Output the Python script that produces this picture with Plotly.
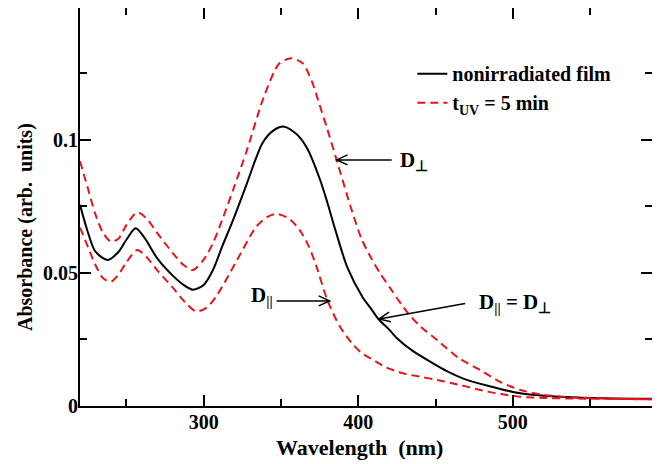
import plotly.graph_objects as go

# ---- data ----
wl_film = [220, 225, 230, 238, 245, 250, 256, 262, 270, 280, 287, 293, 300, 306, 312, 319,
           328, 338, 345, 352, 360, 367, 375, 380, 385, 393, 403, 408, 413, 420, 425, 435,
           447, 457, 468, 485, 500, 515, 533, 560, 590]
abs_film = [0.0756, 0.0655, 0.058, 0.0549, 0.058, 0.0625, 0.0668, 0.063, 0.0555, 0.049, 0.0455,
            0.0437, 0.0455, 0.0511, 0.060, 0.0699, 0.0837, 0.0988, 0.1035, 0.1050, 0.1022,
            0.0968, 0.0855, 0.0765, 0.0665, 0.0520, 0.0407, 0.0368, 0.0327, 0.0287, 0.0255,
            0.0208, 0.0165, 0.0132, 0.0103, 0.0074, 0.0053, 0.0041, 0.0034, 0.0029, 0.0027]

wl_perp = [220, 225, 230, 235, 240, 245, 250, 257, 263, 270, 280, 287, 293, 300, 306, 312,
           319, 328, 339, 349, 357, 364, 370, 374, 380, 386, 395, 402, 408, 414, 421, 432,
           440, 451, 465, 479, 492, 505, 520, 540, 560, 590]
abs_perp = [0.092, 0.082, 0.072, 0.065, 0.0618, 0.063, 0.068, 0.0728, 0.0705, 0.065, 0.0575,
            0.053, 0.0511, 0.055, 0.0612, 0.070, 0.0812, 0.0962, 0.1163, 0.1288, 0.1307,
            0.1288, 0.122, 0.115, 0.104, 0.0925, 0.075, 0.063, 0.056, 0.050, 0.044, 0.035,
            0.030, 0.0248, 0.018, 0.0135, 0.009, 0.006, 0.0042, 0.0032, 0.0028, 0.0025]

wl_par = [220, 225, 230, 235, 240, 245, 250, 257, 263, 270, 280, 288, 295, 302, 308, 316,
          324, 334, 341, 347, 355, 362, 368, 373, 380, 388, 396, 402, 408, 418, 429, 440,
          451, 465, 479, 492, 505, 520, 540, 560, 590]
abs_par = [0.067, 0.060, 0.053, 0.048, 0.0467, 0.0495, 0.054, 0.0586, 0.056, 0.051, 0.0445,
           0.039, 0.0356, 0.037, 0.0411, 0.049, 0.0574, 0.0674, 0.071, 0.0722, 0.0705, 0.0662,
           0.060, 0.0524, 0.0398, 0.030, 0.0235, 0.020, 0.0179, 0.0145, 0.0123, 0.011,
           0.0098, 0.008, 0.006, 0.0045, 0.0035, 0.003, 0.0028, 0.0027, 0.0025]

x_range = [220, 590]
y_range = [0, 0.1496]
x_ticks = [300, 400, 500]
y_ticks = [0, 0.05, 0.1]
y_tick_labels = ["0", "0.05", "0.1"]

FONT = "Liberation Serif"
RED = "#e8141a"

fig = go.Figure()
fig.add_trace(go.Scatter(x=wl_film, y=abs_film, mode="lines", name="<b>nonirradiated film</b>",
                         line=dict(color="black", width=2, shape="spline", smoothing=0.8)))
fig.add_trace(go.Scatter(x=wl_perp, y=abs_perp, mode="lines", name="<b>t<sub>UV</sub> = 5 min</b>",
                         legendgroup="uv",
                         line=dict(color=RED, width=2, dash="8px,5px", shape="spline", smoothing=0.8)))
fig.add_trace(go.Scatter(x=wl_par, y=abs_par, mode="lines", name="t_UV = 5 min (D||)",
                         legendgroup="uv", showlegend=False,
                         line=dict(color=RED, width=2, dash="8px,5px", shape="spline", smoothing=0.8)))

axis_common = dict(showline=True, linecolor="black", linewidth=2, mirror="ticks",
                   ticks="inside", tickcolor="black", tickwidth=2, ticklen=11,
                   showgrid=False, zeroline=False, automargin=False,
                   tickfont=dict(family=FONT, size=20, color="black"))

fig.update_xaxes(range=x_range, tickvals=x_ticks, ticktext=[f"<b>{v}</b>" for v in x_ticks],
                 ticklabelstandoff=-3,
                 minor=dict(dtick=50, tick0=0, ticks="inside", ticklen=7, tickwidth=2, tickcolor="black"),
                 **axis_common)
fig.update_yaxes(range=y_range, tickvals=y_ticks, ticktext=[f"<b>{t}</b>" for t in y_tick_labels],
                 ticklabelstandoff=-4,
                 minor=dict(dtick=0.025, tick0=0, ticks="inside", ticklen=7, tickwidth=2, tickcolor="black"),
                 **axis_common)

# axis titles (placed as in the reference)
fig.add_annotation(text="<b>Wavelength\u00a0 (nm)</b>", xref="paper", yref="paper",
                   x=0.488, y=-0.1055, yanchor="middle", showarrow=False,
                   font=dict(family=FONT, size=22, color="black"))
fig.add_annotation(text="<b>Absorbance (arb.\u00a0 units)</b>", xref="paper", yref="paper",
                   x=-0.0962, y=0.4497, xanchor="center", yanchor="middle", textangle=-90,
                   showarrow=False, font=dict(family=FONT, size=20, color="black"))

# text labels
lab_font = dict(family=FONT, size=21, color="black")
fig.add_annotation(text="<b>D<sub>\u22a5</sub></b>", x=425.5, y=0.092, xanchor="left", yanchor="middle",
                   showarrow=False, font=lab_font)
fig.add_annotation(text="<b>D<sub>||</sub></b>", x=329.5, y=0.0414, xanchor="left", yanchor="middle",
                   showarrow=False, font=lab_font)
fig.add_annotation(text="<b>D<sub>||</sub> = D<sub>\u22a5</sub></b>", x=476.5, y=0.0388, xanchor="left",
                   yanchor="middle", showarrow=False, font=lab_font)

# arrows: pixel-sized paths anchored at the curve points they point to
arrow_style = dict(type="path", xref="x", yref="y", xsizemode="pixel", ysizemode="pixel",
                   line=dict(color="black", width=1.5))
fig.add_shape(xanchor=386, yanchor=0.0925, path="M55,0 L0,0 M11,5 L0,0 L11,-5", **arrow_style)
fig.add_shape(xanchor=381.5, yanchor=0.0395, path="M-53,0 L0,0 M-11,5 L0,0 L-11,-5", **arrow_style)
fig.add_shape(xanchor=413.5, yanchor=0.0327, path="M86,15.6 L0,0 M9.9,6.8 L0,0 L11.7,-2.8", **arrow_style)

# the page body adds an 8px offset, so the margins are shifted to compensate
fig.update_layout(
    width=660, height=464,
    margin=dict(l=72, r=16, t=0, b=66, autoexpand=False),
    plot_bgcolor="white", paper_bgcolor="white",
    font=dict(family=FONT, color="black"),
    showlegend=True,
    legend=dict(x=0.581, y=0.884, xanchor="left", yanchor="top", bgcolor="rgba(0,0,0,0)",
                font=dict(family=FONT, size=20, color="black"), tracegroupgap=0,
                itemwidth=30),
)

fig.write_html("out.html")
